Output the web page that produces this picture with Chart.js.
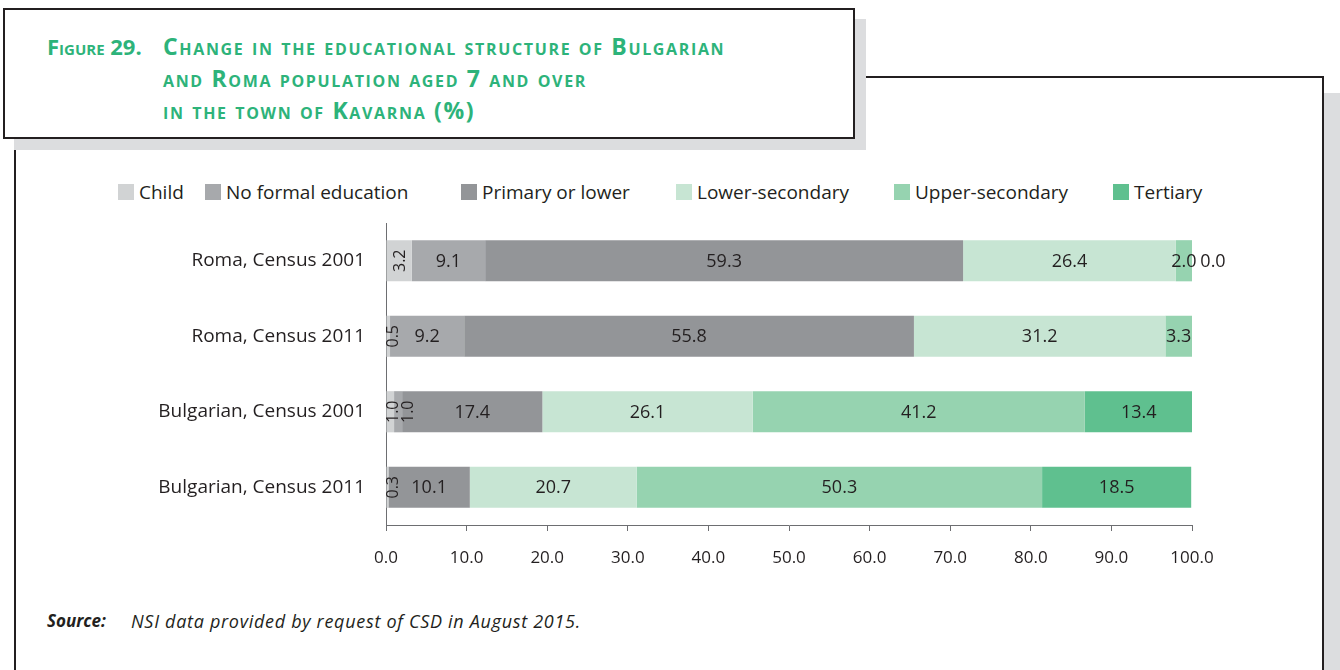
<!DOCTYPE html>
<html>
<head>
<meta charset="utf-8">
<script src="https://cdn.jsdelivr.net/npm/chart.js@4.4.1/dist/chart.umd.min.js"></script>
<style>
    body { margin: 0; width: 1340px; height: 670px; overflow: hidden; background: #fff; font-family: "Open Sans", sans-serif; color: #231f20; }
    .frame { position: absolute; left: 14px; top: 76px; width: 1306px; height: 700px; border: 2px solid #231f20; box-shadow: 16px 17px 0 #dcdddf; background: #fff; }
    .title-box { position: absolute; left: 3px; top: 8px; width: 848px; height: 127px; border: 2px solid #231f20; box-shadow: 11px 11px 0 #dcdddf; background: #fff; z-index: 2; }
    .title { position: absolute; color: #2db37a; font-family: "Liberation Sans Narrow", "Open Sans", sans-serif; font-variant: small-caps; font-size: 23px; font-weight: bold; line-height: 32px; white-space: nowrap; z-index: 3; }
    .legend-item { position: absolute; top: 184px; font-size: 19px; line-height: 16px; white-space: nowrap; z-index: 3; }
    .legend-item span.box { position: absolute; left: 0; top: 0; width: 16px; height: 16px; }
    .legend-item span.txt { position: absolute; left: 21px; top: -4px; line-height: 24px; }
    .source { position: absolute; left: 47px; top: 609px; font-size: 17px; font-style: italic; z-index: 3; }
    .source span { position: absolute; left: 84px; top: 0; white-space: nowrap; font-size: 18px; letter-spacing: 0.7px; }
    #chartWrap { position: absolute; left: 0; top: 0; width: 1340px; height: 670px; z-index: 3; }
</style>
</head>
<body>
<div class="frame"></div>
<div class="title-box"></div>
<div class="title" style="left:47px; top:30px; font-size:22px;">Figure 29.</div>
<div class="title" style="left:163px; top:30px; letter-spacing:1.65px;">Change in the educational structure of Bulgarian<br>and Roma population aged 7 and over<br>in the town of Kavarna (%)</div>
<div id="legend"></div>
<div class="source"><b>Source:</b><span>NSI data provided by request of CSD in August 2015.</span></div>
<div id="chartWrap"><canvas id="chart" width="1340" height="670"></canvas></div>

<script>
// Chart data
const groups = ['Roma, Census 2001', 'Roma, Census 2011', 'Bulgarian, Census 2001', 'Bulgarian, Census 2011'];
const levels = ['Child', 'No formal education', 'Primary or lower', 'Lower-secondary', 'Upper-secondary', 'Tertiary'];
const child = [3.2, 0.5, 1.0, 0.3];
const noFormal = [9.1, 9.2, 1.0, null];
const primary = [59.3, 55.8, 17.4, 10.1];
const lowerSec = [26.4, 31.2, 26.1, 20.7];
const upperSec = [2.0, 3.3, 41.2, 50.3];
const tertiary = [0.0, null, 13.4, 18.5];
const xTicks = [0, 10, 20, 30, 40, 50, 60, 70, 80, 90, 100];

const colors = ['#d1d3d4', '#a7a9ac', '#939598', '#c7e5d3', '#96d3b0', '#5fc08f'];
const legendLeft = [118, 205, 461, 676, 894, 1113];

const series = [child, noFormal, primary, lowerSec, upperSec, tertiary];

// legend
const legendEl = document.getElementById('legend');
legendEl.innerHTML = levels.map((name, i) => `
    <div class="legend-item" style="left:${legendLeft[i]}px">
        <span class="box" style="background:${colors[i]}"></span>
        <span class="txt">${name}</span>
    </div>`).join('');

// value labels inside segments
const segmentLabels = {
    id: 'segmentLabels',
    afterDatasetsDraw(chart) {
        const ctx = chart.ctx;
        const axisX = chart.scales.x.left;
        const lastRotated = {};
        ctx.save();
        ctx.fillStyle = '#231f20';
        ctx.textAlign = 'center';
        ctx.textBaseline = 'middle';
        chart.data.datasets.forEach((ds, di) => {
            const meta = chart.getDatasetMeta(di);
            meta.data.forEach((el, i) => {
                const v = ds.data[i];
                if (v === null || v === undefined) return;
                const text = v.toFixed(1);
                const w = Math.abs(el.x - el.base);
                const center = (el.x + el.base) / 2;
                if (v === 0) {
                    ctx.font = '18px "Open Sans", sans-serif';
                    ctx.fillText(text, el.x + 21, el.y + 1);
                } else if (di <= 1 && w < 30) {
                    // thin segments: rotated label, kept clear of the axis and of its neighbour
                    const prev = lastRotated[i] !== undefined ? lastRotated[i] + 15 : -Infinity;
                    const cx = Math.max(center, axisX + 6, prev);
                    lastRotated[i] = cx;
                    ctx.font = '16px "Open Sans", sans-serif';
                    ctx.save();
                    ctx.translate(cx, el.y);
                    ctx.rotate(-Math.PI / 2);
                    ctx.fillText(text, 0, 1);
                    ctx.restore();
                } else {
                    ctx.font = '18px "Open Sans", sans-serif';
                    ctx.fillText(text, center, el.y + 1);
                }
            });
        });
        ctx.restore();
    }
};

new Chart(document.getElementById('chart'), {
    type: 'bar',
    data: {
        labels: groups,
        datasets: levels.map((name, i) => ({
            label: name,
            data: series[i],
            backgroundColor: colors[i],
            borderWidth: 0,
            barPercentage: 0.545,
            categoryPercentage: 1
        }))
    },
    options: {
        indexAxis: 'y',
        responsive: false,
        animation: false,
        layout: { padding: { left: 0, right: 148, top: 223, bottom: 0 } },
        plugins: {
            legend: { display: false },
            tooltip: { enabled: false }
        },
        scales: {
            x: {
                stacked: true,
                min: 0,
                max: 100,
                afterBuildTicks: axis => { axis.ticks = xTicks.map(v => ({ value: v })); },
                afterFit: axis => { axis.height = 145; },
                grid: { drawOnChartArea: false, drawTicks: true, tickLength: 6, color: '#6d6e71' },
                border: { display: true, color: '#6d6e71', width: 1 },
                ticks: {
                    padding: 17,
                    color: '#231f20',
                    font: { family: 'Open Sans', size: 17 },
                    callback: v => v.toFixed(1)
                }
            },
            y: {
                stacked: true,
                afterFit: axis => { axis.width = 386; },
                grid: { display: false, drawTicks: false },
                border: { display: true, color: '#6d6e71', width: 1 },
                ticks: {
                    padding: 21,
                    color: '#231f20',
                    font: { family: 'Open Sans', size: 19 }
                }
            }
        }
    },
    plugins: [segmentLabels]
});
</script>
</body>
</html>
